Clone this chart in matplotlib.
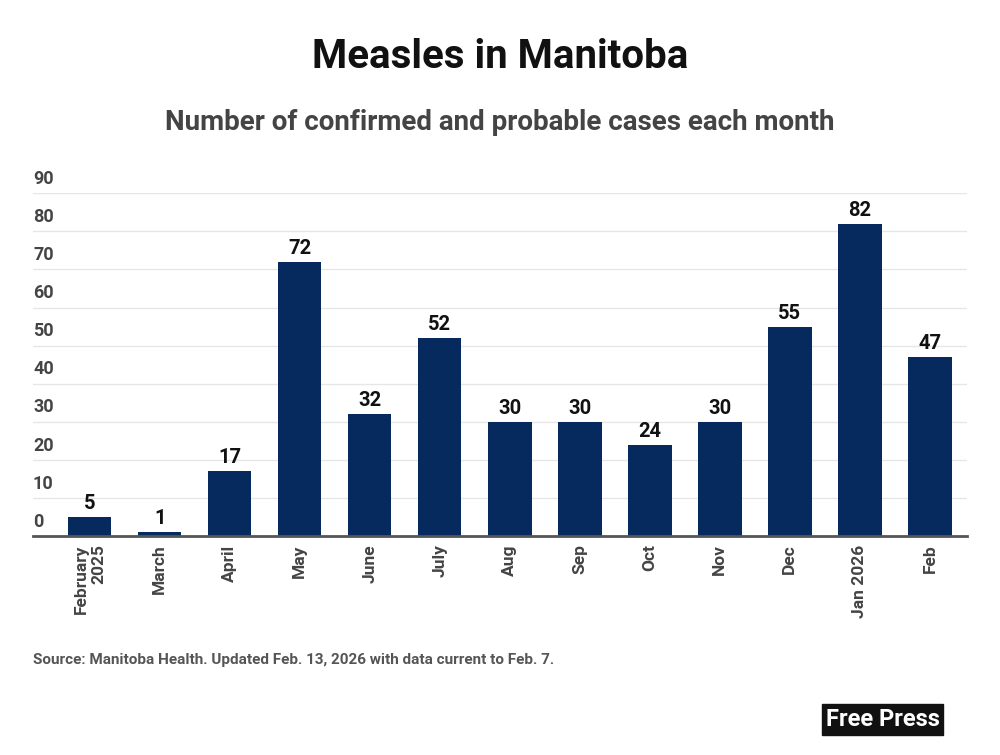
import matplotlib.pyplot as plt
from matplotlib.transforms import blended_transform_factory

plt.rcParams['font.family'] = ['Roboto', 'DejaVu Sans']

# Data
months = ['February\n2025', 'March', 'April', 'May', 'June', 'July', 'Aug',
          'Sep', 'Oct', 'Nov', 'Dec', 'Jan 2026', 'Feb']
cases = [5, 1, 17, 72, 32, 52, 30, 30, 24, 30, 55, 82, 47]
yticks = [0, 10, 20, 30, 40, 50, 60, 70, 80, 90]

bar_color = '#06295e'
grey = '#444444'

fig = plt.figure(figsize=(10, 7.55), dpi=100)
ax = fig.add_axes([0.033, 0.290, 0.934, 0.454])

x = list(range(len(months)))
bars = ax.bar(x, cases, width=0.62, color=bar_color, zorder=3)

for xi, v in zip(x, cases):
    ax.text(xi, v + 1.0, str(v), ha='center', va='bottom', fontsize=14.5,
            fontweight='bold', color='#111111')

ax.set_xlim(-0.81, 12.53)
ax.set_ylim(0, 90)

# gridlines with labels sitting above them
ax.set_yticks(yticks)
ax.set_yticklabels([])
ax.tick_params(axis='y', length=0)
ax.grid(axis='y', color='#e6e6e6', linewidth=1, zorder=0)
trans = blended_transform_factory(ax.transAxes, ax.transData)
for t in yticks:
    ax.text(0.0, t + 1.4, str(t), transform=trans, ha='left', va='bottom',
            fontsize=13, fontweight='bold', color=grey)

ax.set_xticks(x)
ax.set_xticklabels(months, rotation=90, fontsize=12.5, fontweight='bold',
                   color=grey, ha='center', va='top', multialignment='right')
ax.tick_params(axis='x', length=0, pad=6)

for s in ['top', 'right', 'left']:
    ax.spines[s].set_visible(False)
ax.spines['bottom'].set_color('#555555')
ax.spines['bottom'].set_linewidth(2)
ax.spines['bottom'].set_zorder(4)

fig.text(0.5, 0.925, 'Measles in Manitoba', ha='center', va='center',
         fontsize=29, fontweight='bold', color='#111111')
fig.text(0.5, 0.838, 'Number of confirmed and probable cases each month',
         ha='center', va='center', fontsize=20, fontweight='bold', color=grey)
fig.text(0.033, 0.126,
         'Source: Manitoba Health. Updated Feb. 13, 2026 with data current to Feb. 7.',
         ha='left', va='center', fontsize=11, fontweight='bold', color='#555555')

# logo
fig.text(0.8825, 0.047, 'Free Press', ha='center', va='center', fontsize=17,
         fontweight='bold', color='white',
         bbox=dict(boxstyle='square,pad=0.15', facecolor='#111111',
                   edgecolor='#111111'))

fig.savefig('out.png', dpi=100)
